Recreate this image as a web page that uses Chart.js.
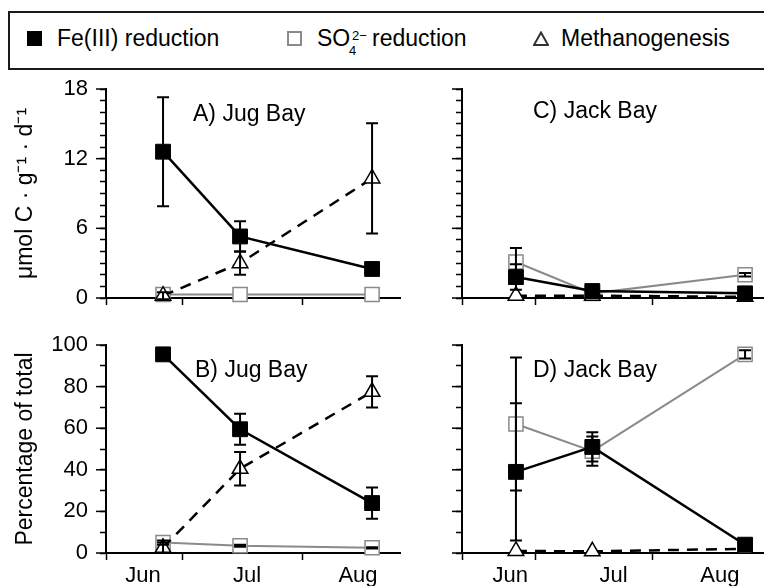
<!DOCTYPE html>
<html>
<head>
<meta charset="utf-8">
<script src="https://cdn.jsdelivr.net/npm/chart.js@4.4.1/dist/chart.umd.min.js"></script>
<style>
  html, body { margin: 0; padding: 0; background: #fff; overflow: hidden; }
  #wrap { position: relative; width: 764px; height: 586px; overflow: hidden;
          font-family: 'Liberation Sans', Arial, sans-serif; color: #000; }
  canvas { position: absolute; }
  .box { position: absolute; left: 8px; top: 11px; width: 800px; height: 59px;
         box-sizing: border-box; border: 2px solid #1a1a1a; }
  .t { position: absolute; font-size: 23px; line-height: 23px; white-space: nowrap; }
  .s { position: absolute; font-size: 13px; line-height: 13px; white-space: nowrap; }
  .mk { position: absolute; box-sizing: border-box; width: 15px; height: 15px; }
</style>
</head>
<body>
<div id="wrap">
  <div class="box"></div>
  <div class="mk" style="left:27px;top:31px;background:#000"></div>
  <div class="t" style="left:57px;top:27px">Fe(III) reduction</div>
  <div class="mk" style="left:287px;top:31px;border:2px solid #8a8a8a;background:#fff"></div>
  <div class="t" style="left:317px;top:27px">SO</div>
  <div class="s" style="left:349px;top:44px">4</div>
  <div class="s" style="left:352px;top:29px">2−</div>
  <div class="t" style="left:372px;top:27px">reduction</div>
  <svg style="position:absolute;left:533px;top:31px" width="16" height="15">
    <polygon points="8,1.5 15,14 1,14" fill="none" stroke="#333" stroke-width="2"/>
  </svg>
  <div class="t" style="left:561px;top:27px">Methanogenesis</div>

  <canvas id="cA" width="420" height="250" style="left:0;top:70px"></canvas>
  <canvas id="cB" width="420" height="266" style="left:0;top:320px"></canvas>
  <canvas id="cC" width="400" height="250" style="left:400px;top:70px"></canvas>
  <canvas id="cD" width="400" height="266" style="left:400px;top:320px"></canvas>

  <div class="t" style="left:193px;top:102px">A) Jug Bay</div>
  <div class="t" style="left:195px;top:358px">B) Jug Bay</div>
  <div class="t" style="left:533px;top:99px">C) Jack Bay</div>
  <div class="t" style="left:533px;top:358px">D) Jack Bay</div>
</div>
<script>
const months = ['Jun', 'Jul', 'Aug'];
// positions along the time axis (0 = left end of the axis)
const monthBounds = [0, 26, 67];
const jugMonthPos = [12.6, 48, 85.7];
const jackMonthPos = [17, 53.4, 90.8];
const jugSampling = [19.4, 45.6, 90.5];
const jackSampling = [19, 45.9, 99.7];

// A) Jug Bay rates, umol C g-1 d-1
const jugRateFe = [12.6, 5.3, 2.5];
const jugRateFeErr = [4.7, 1.3, 0.3];
const jugRateSO4 = [0.3, 0.3, 0.3];
const jugRateSO4Err = [0, 0, 0];
const jugRateCH4 = [0.2, 3.0, 10.3];
const jugRateCH4Err = [0.3, 1.0, 4.75];

// B) Jug Bay, percentage of total
const jugPctFe = [95.5, 59.5, 24];
const jugPctFeErr = [1.5, 7.5, 7.5];
const jugPctSO4 = [5, 3.5, 2.5];
const jugPctSO4Err = [1, 0.5, 0.3];
const jugPctCH4 = [2.5, 40.5, 77.5];
const jugPctCH4Err = [2.5, 8, 7.5];

// C) Jack Bay rates
const jackRateFe = [1.8, 0.6, 0.4];
const jackRateFeErr = [1.1, 0.2, 0.1];
const jackRateSO4 = [3.1, 0.4, 2.0];
const jackRateSO4Err = [1.2, 0.1, 0.15];
const jackRateCH4 = [0.2, 0.2, 0.1];
const jackRateCH4Err = [0, 0, 0];

// D) Jack Bay, percentage of total
const jackPctFe = [39, 51, 4];
const jackPctFeErr = [33, 7, 1];
const jackPctSO4 = [62, 49, 95.5];
const jackPctSO4Err = [32, 7, 2];
const jackPctCH4 = [1, 0.8, 2];
const jackPctCH4Err = [0, 0, 0];

Chart.defaults.font.family = "'Liberation Sans', Arial, sans-serif";
Chart.defaults.color = '#000';

const errorBars = {
  id: 'errorBars',
  afterDatasetsDraw(chart) {
    const ctx = chart.ctx, ys = chart.scales.y;
    ctx.save();
    ctx.strokeStyle = '#000';
    ctx.lineWidth = 2;
    chart.data.datasets.forEach((ds, i) => {
      chart.getDatasetMeta(i).data.forEach((pt, j) => {
        const e = ds.errors[j];
        if (!e) return;
        const v = ds.data[j].y;
        const top = ys.getPixelForValue(v + e);
        const bot = ys.getPixelForValue(v - e);
        ctx.beginPath();
        ctx.moveTo(pt.x, top); ctx.lineTo(pt.x, bot);
        ctx.moveTo(pt.x - 6, top); ctx.lineTo(pt.x + 6, top);
        ctx.moveTo(pt.x - 6, bot); ctx.lineTo(pt.x + 6, bot);
        ctx.stroke();
      });
    });
    ctx.restore();
  }
};

const majorTicks = {
  id: 'majorTicks',
  afterDraw(chart, args, o) {
    const ys = chart.scales.y, ctx = chart.ctx;
    ctx.save();
    ctx.strokeStyle = '#000';
    ctx.lineWidth = 1.5;
    ys.ticks.forEach(t => {
      if (t.value % o.step !== 0) return;
      const p = ys.getPixelForValue(t.value);
      ctx.beginPath();
      ctx.moveTo(ys.right - 10, p);
      ctx.lineTo(ys.right, p);
      ctx.stroke();
    });
    ctx.restore();
  }
};

function series(label, xs, ys, errs, style) {
  return Object.assign({
    label,
    errors: errs,
    data: xs.map((x, i) => ({ x, y: ys[i] })),
    tension: 0,
    clip: false
  }, style);
}

const feStyle = { borderColor: '#000', borderWidth: 2.5, pointStyle: 'rect', pointRadius: 10.5,
  pointBackgroundColor: '#000', pointBorderColor: '#000', pointBorderWidth: 1, order: 0 };
const so4Style = { borderColor: '#8a8a8a', borderWidth: 2, pointStyle: 'rect', pointRadius: 10,
  pointBackgroundColor: '#fff', pointBorderColor: '#8a8a8a', pointBorderWidth: 1.5, order: 2 };
const ch4Style = { borderColor: '#000', borderWidth: 2.5, borderDash: [11, 8], pointStyle: 'triangle',
  pointRadius: 9, pointBackgroundColor: '#fff', pointBorderColor: '#000', pointBorderWidth: 1.5, order: 1 };

function panel(id, o) {
  new Chart(document.getElementById(id), {
    type: 'line',
    data: {
      datasets: [
        series('Fe(III) reduction', o.xs, o.fe, o.feErr, feStyle),
        series('SO42- reduction', o.xs, o.so4, o.so4Err, so4Style),
        series('Methanogenesis', o.xs, o.ch4, o.ch4Err, ch4Style)
      ]
    },
    options: {
      responsive: false,
      animation: false,
      layout: { padding: { top: o.padTop, right: o.padRight, left: 0, bottom: 0 } },
      plugins: {
        legend: { display: false },
        tooltip: { enabled: false },
        majorTicks: { step: o.yMajor }
      },
      scales: {
        x: {
          type: 'linear', min: 0, max: o.xMax,
          afterBuildTicks: ax => {
            ax.ticks = [...monthBounds, ...o.monthPos].sort((a, b) => a - b).map(v => ({ value: v }));
          },
          afterFit: ax => { ax.height = o.xHeight; ax.paddingLeft = 0; ax.paddingRight = 0; },
          grid: { drawOnChartArea: false, tickLength: 7, tickWidth: 1.5,
            tickColor: c => monthBounds.includes(c.tick.value) ? '#000' : 'rgba(0,0,0,0)' },
          border: { display: true, color: '#000', width: 2 },
          ticks: { autoSkip: false, maxRotation: 0, padding: 3, font: { size: 22 },
            callback: v => {
              const i = o.monthPos.indexOf(v);
              return o.showMonths && i >= 0 ? months[i] : '';
            } }
        },
        y: {
          min: 0, max: o.yMax,
          afterBuildTicks: ax => {
            const t = [];
            for (let v = 0; v <= o.yMax; v += o.yMinor) t.push({ value: v });
            ax.ticks = t;
          },
          afterFit: ax => { ax.width = o.yWidth; ax.paddingTop = 0; ax.paddingBottom = 0; },
          grid: { drawOnChartArea: false, tickLength: 6, tickWidth: 1.5, tickColor: '#000' },
          border: { display: true, color: '#000', width: 2 },
          ticks: { autoSkip: false, padding: 12, font: { size: 22 },
            callback: v => o.showY && v % o.yMajor === 0 ? String(v) : '' },
          title: { display: !!o.yTitle, text: o.yTitle, font: { size: 23 }, padding: { top: 12 } }
        }
      }
    },
    plugins: [errorBars, majorTicks]
  });
}

panel('cA', { xs: jugSampling, monthPos: jugMonthPos, fe: jugRateFe, feErr: jugRateFeErr,
  so4: jugRateSO4, so4Err: jugRateSO4Err, ch4: jugRateCH4, ch4Err: jugRateCH4Err,
  xMax: 100, yMax: 18, yMinor: 1, yMajor: 6, showY: true, showMonths: false,
  yTitle: 'μmol C · g⁻¹ · d⁻¹', yWidth: 106, xHeight: 22, padTop: 19, padRight: 20 });

panel('cB', { xs: jugSampling, monthPos: jugMonthPos, fe: jugPctFe, feErr: jugPctFeErr,
  so4: jugPctSO4, so4Err: jugPctSO4Err, ch4: jugPctCH4, ch4Err: jugPctCH4Err,
  xMax: 100, yMax: 100, yMinor: 10, yMajor: 20, showY: true, showMonths: true,
  yTitle: 'Percentage of total', yWidth: 106, xHeight: 33, padTop: 25, padRight: 20 });

panel('cC', { xs: jackSampling, monthPos: jackMonthPos, fe: jackRateFe, feErr: jackRateFeErr,
  so4: jackRateSO4, so4Err: jackRateSO4Err, ch4: jackRateCH4, ch4Err: jackRateCH4Err,
  xMax: 115, yMax: 18, yMinor: 1, yMajor: 6, showY: false, showMonths: false,
  yTitle: '', yWidth: 62, xHeight: 22, padTop: 19, padRight: 0 });

panel('cD', { xs: jackSampling, monthPos: jackMonthPos, fe: jackPctFe, feErr: jackPctFeErr,
  so4: jackPctSO4, so4Err: jackPctSO4Err, ch4: jackPctCH4, ch4Err: jackPctCH4Err,
  xMax: 115, yMax: 100, yMinor: 10, yMajor: 20, showY: false, showMonths: true,
  yTitle: '', yWidth: 62, xHeight: 33, padTop: 25, padRight: 0 });
</script>
</body>
</html>
